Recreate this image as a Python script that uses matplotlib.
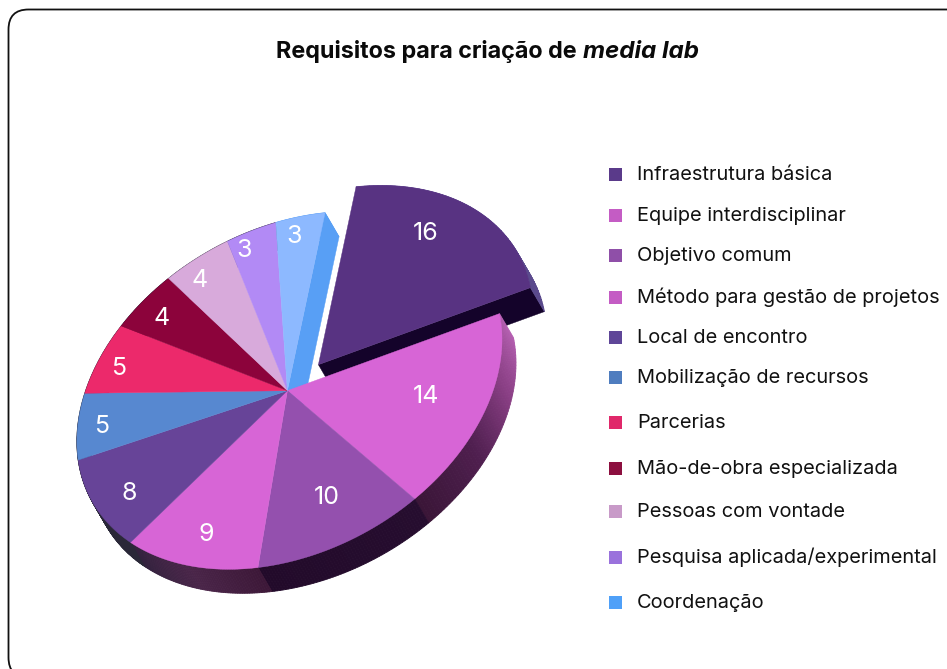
import numpy as np
import matplotlib
matplotlib.use("Agg")
import matplotlib.pyplot as plt
from matplotlib.patches import FancyBboxPatch, Rectangle
from matplotlib.colors import to_rgb

categorias = ["Infraestrutura básica", "Equipe interdisciplinar", "Objetivo comum",
              "Método para gestão de projetos", "Local de encontro", "Mobilização de recursos",
              "Parcerias", "Mão-de-obra especializada", "Pessoas com vontade",
              "Pesquisa aplicada/experimental", "Coordenação"]
valores = [16, 14, 10, 9, 8, 5, 5, 4, 4, 3, 3]
cores = ["#583382", "#d765d6", "#9450ae", "#d765d6", "#674498", "#5788d0",
         "#ec296b", "#8c033b", "#d8aadb", "#b28af5", "#8db9ff"]
cores_legenda = ["#5a3a8a", "#c45cc4", "#8f4fa8", "#c45cc4", "#5f4698", "#4f7dbf",
                 "#e0286a", "#8c0f3f", "#c89ac8", "#9a72dc", "#4fa0f8"]
# lateral de cada fatia, do inicio ao fim do arco
cores_lado = [["#6a4f9c", "#5a4a8c"],
              ["#b660b2", "#8a3f85", "#4f1f4f", "#3b1638"],
              ["#260d2f", "#220a2a"],
              ["#3d1838", "#4a2549", "#33223e"],
              ["#2a2838", "#2a2838"],
              ["#2a2838", "#2a2838"], ["#2a2838", "#2a2838"], ["#2a2838", "#2a2838"],
              ["#2a2838", "#2a2838"], ["#2a2838", "#2a2838"], ["#589ff5", "#589ff5"]]
cor_corte_16 = "#14032a"
cor_corte_coord = "#589ff5"

# layout, em pixels da imagem
legenda_y = [174, 215, 255, 297, 337, 377, 422, 468, 511, 557, 602]
# perspectiva do disco: circulo unitario -> pixels
H = np.array([[206.4164, 37.48415, 287.3995],
              [-23.62854, -177.978, 390.6841],
              [-0.00961206, -0.0005090524, 1]])
desloc = np.array([31, -26])   # fatia destacada
ext = np.array([14, 24])       # espessura do disco
r_rotulo = [0.775, 0.70, 0.71, 0.82, 0.84, 0.887, 0.89, 0.86, 0.87, 0.89, 0.887]
ajuste_rotulo = [(-11, -10), (0, -7), (2, -3), (0, 0), (4, 5), (1, 3),
                 (-1, 6), (-2, 5), (-9, 5), (-11, 2), (-5, 0)]
fonte = "Inter"


def projeta(x, y):
    p = H @ np.vstack([x, y, np.ones_like(x)])
    return p[0] / p[2], p[1] / p[2]


def arco(a0, a1, n=60):
    a = np.radians(np.linspace(a0, a1, n))
    return np.sin(a), np.cos(a)


fig = plt.figure(figsize=(9.47, 6.69), dpi=100)
ax = fig.add_axes([0, 0, 1, 1])
ax.set_xlim(0, 947)
ax.set_ylim(669, 0)
ax.axis("off")

ax.add_patch(FancyBboxPatch((8.5, 9.5), 970, 668, boxstyle="round,pad=0,rounding_size=20",
                            fc="white", ec="#111111", lw=1.3))

total = sum(valores)
limites = np.cumsum([0] + valores) * 360 / total


def desenha_lado(i, dx, dy):
    xa, ya = arco(limites[i], limites[i + 1])
    px, py = projeta(xa, ya)
    px, py = px + dx, py + dy
    stops = np.array([to_rgb(c) for c in cores_lado[i]])
    pos = np.linspace(0, 1, len(stops))
    for k in range(len(px) - 1):
        f = k / (len(px) - 2)
        cor = [np.interp(f, pos, stops[:, j]) for j in range(3)]
        ax.fill([px[k], px[k + 1], px[k + 1] + ext[0], px[k] + ext[0]],
                [py[k], py[k + 1], py[k + 1] + ext[1], py[k] + ext[1]],
                color=cor, lw=0.6)


def desenha_topo(i, dx, dy):
    xa, ya = arco(limites[i], limites[i + 1])
    px, py = projeta(np.r_[0, xa], np.r_[0, ya])
    ax.fill(px + dx, py + dy, color=cores[i], lw=0.3)


# fatia destacada: corte, lateral e topo
cx, cy = projeta(np.array([0.0]), np.array([0.0]))
fx, fy = projeta(*arco(limites[1], limites[1], 1))
ax.fill([cx[0] + desloc[0], fx[0] + desloc[0], fx[0] + desloc[0] + ext[0], cx[0] + desloc[0] + ext[0]],
        [cy[0] + desloc[1], fy[0] + desloc[1], fy[0] + desloc[1] + ext[1], cy[0] + desloc[1] + ext[1]],
        color=cor_corte_16, lw=0.3)
desenha_lado(0, *desloc)
desenha_topo(0, *desloc)

# disco restante
for i in range(1, len(valores)):
    desenha_lado(i, 0, 0)
fx, fy = projeta(*arco(limites[-1], limites[-1], 1))
ax.fill([cx[0], fx[0], fx[0] + ext[0], cx[0] + ext[0]],
        [cy[0], fy[0], fy[0] + ext[1], cy[0] + ext[1]],
        color=cor_corte_coord, lw=0.3)
for i in range(1, len(valores)):
    desenha_topo(i, 0, 0)

# rotulos
for i, v in enumerate(valores):
    meio = (limites[i] + limites[i + 1]) / 2
    xa, ya = arco(meio, meio, 1)
    tx, ty = projeta(xa * r_rotulo[i], ya * r_rotulo[i])
    d = desloc if i == 0 else (0, 0)
    ax.text(tx[0] + d[0] + ajuste_rotulo[i][0], ty[0] + d[1] + ajuste_rotulo[i][1], str(v),
            color="white", fontsize=18, family=fonte, ha="center", va="center")

# titulo
ax.text(276, 58, "Requisitos para criação de", fontsize=16.8, family=fonte, fontweight="bold",
        color="#0a0a0a", va="baseline")
ax.text(583, 58, "media lab", fontsize=17.4, family=fonte, fontweight="bold", style="italic",
        color="#0a0a0a", va="baseline")

# legenda
for nome, cor, y in zip(categorias, cores_legenda, legenda_y):
    ax.add_patch(Rectangle((609, y - 6.5), 13, 13, color=cor, lw=0))
    ax.text(637, y + 6, nome, fontsize=14.4, family=fonte, color="#111111", va="baseline")

fig.savefig("out.png", dpi=100)
